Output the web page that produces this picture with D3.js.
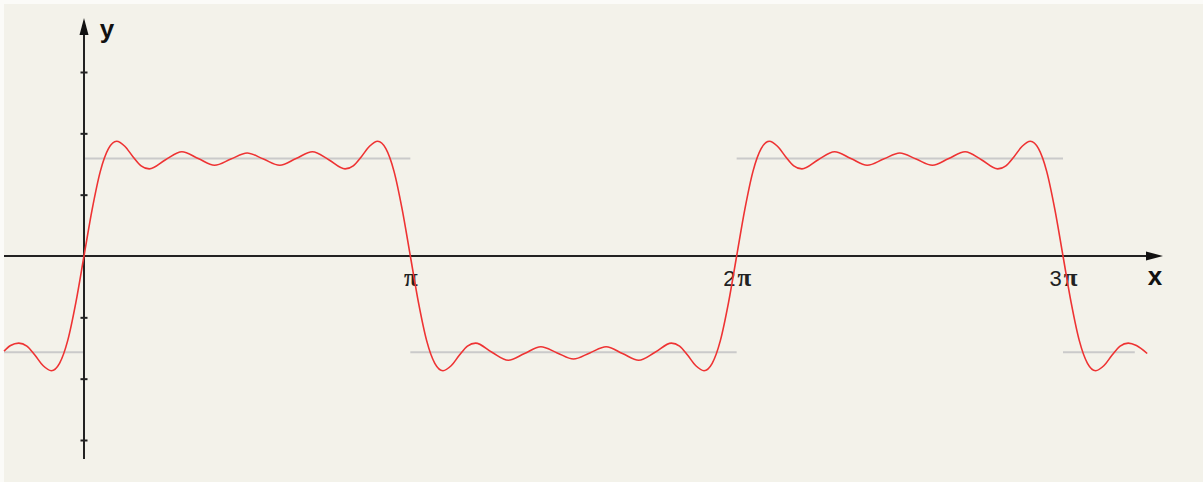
<!DOCTYPE html>
<html>

<head>
    <meta charset="utf-8">
    <title>Square wave partial sum</title>
    <style>
        body { margin: 0; background: #fbfbf8; }
        svg { display: block; }
    </style>
</head>

<body>
    <div id="svgContainer"></div>
    <script src="https://d3js.org/d3.v7.min.js"></script>
    <script>
        // x in multiples of pi, y in axis units
        var curveX = [
            -0.245, -0.225, -0.2, -0.175, -0.15, -0.125, -0.1, -0.075, -0.05, -0.025,
            0, 0.025, 0.05, 0.075, 0.1, 0.125, 0.15, 0.175, 0.2, 0.25, 0.3, 0.35, 0.4, 0.45,
            0.5, 0.55, 0.6, 0.65, 0.7, 0.75, 0.8, 0.825, 0.85, 0.875, 0.9, 0.925, 0.95, 0.975,
            1, 1.025, 1.05, 1.075, 1.1, 1.125, 1.15, 1.175, 1.2, 1.25, 1.3, 1.35, 1.4, 1.45,
            1.5, 1.55, 1.6, 1.65, 1.7, 1.75, 1.8, 1.825, 1.85, 1.875, 1.9, 1.925, 1.95, 1.975,
            2, 2.025, 2.05, 2.075, 2.1, 2.125, 2.15, 2.175, 2.2, 2.25, 2.3, 2.35, 2.4, 2.45,
            2.5, 2.55, 2.6, 2.65, 2.7, 2.75, 2.8, 2.825, 2.85, 2.875, 2.9, 2.925, 2.95, 2.975,
            3, 3.025, 3.05, 3.075, 3.1, 3.125, 3.15, 3.175, 3.2, 3.225, 3.258
        ];
        var curveY = [
            -1.55, -1.46, -1.42, -1.47, -1.62, -1.79, -1.87, -1.75, -1.38, -0.76,
            0, 0.76, 1.38, 1.75, 1.87, 1.79, 1.62, 1.47, 1.42, 1.57, 1.70, 1.59, 1.48, 1.58,
            1.68, 1.58, 1.48, 1.59, 1.70, 1.57, 1.42, 1.47, 1.62, 1.79, 1.87, 1.75, 1.38, 0.76,
            0, -0.76, -1.38, -1.75, -1.87, -1.79, -1.62, -1.47, -1.42, -1.57, -1.70, -1.59, -1.48, -1.58,
            -1.68, -1.58, -1.48, -1.59, -1.70, -1.57, -1.42, -1.47, -1.62, -1.79, -1.87, -1.75, -1.38, -0.76,
            0, 0.76, 1.38, 1.75, 1.87, 1.79, 1.62, 1.47, 1.42, 1.57, 1.70, 1.59, 1.48, 1.58,
            1.68, 1.58, 1.48, 1.59, 1.70, 1.57, 1.42, 1.47, 1.62, 1.79, 1.87, 1.75, 1.38, 0.76,
            0, -0.76, -1.38, -1.75, -1.87, -1.79, -1.62, -1.47, -1.42, -1.46, -1.59
        ];

        // the grey square wave levels
        var levelStart = [-0.245, 0, 1, 2, 3];
        var levelEnd = [0, 1, 2, 3, 3.22];
        var levelY = [-1.57, 1.59, -1.57, 1.59, -1.57];

        var xTickValues = [1, 2, 3];
        var xTickDigits = ["", "2", "3"];
        var yTickValues = [-3, -2, -1, 1, 2, 3];

        var W = 1203, H = 482;
        var svg = d3.select("#svgContainer")
            .append("svg")
            .attr("width", W)
            .attr("height", H);

        svg.append("rect")
            .attr("x", 4).attr("y", 4)
            .attr("width", W - 4).attr("height", H - 4)
            .attr("fill", "#f3f2ea");

        var x = d3.scaleLinear().domain([0, 3]).range([84, 1063]);
        var y = d3.scaleLinear().domain([-3, 3]).range([440, 72]);

        // grey levels
        svg.selectAll("line.level")
            .data(levelY)
            .enter()
            .append("line")
            .attr("class", "level")
            .attr("x1", (d, i) => x(levelStart[i]))
            .attr("x2", (d, i) => x(levelEnd[i]))
            .attr("y1", d => y(d))
            .attr("y2", d => y(d))
            .attr("stroke", "#cacaca")
            .attr("stroke-width", 2);

        // x axis line + arrow
        svg.append("line")
            .attr("x1", 4).attr("x2", 1150)
            .attr("y1", y(0)).attr("y2", y(0))
            .attr("stroke", "#222").attr("stroke-width", 2);
        svg.append("path")
            .attr("d", "M1163," + y(0) + "L1146," + (y(0) - 4.5) + "L1146," + (y(0) + 4.5) + "Z")
            .attr("fill", "#111");

        // y axis line + arrow
        svg.append("line")
            .attr("x1", x(0)).attr("x2", x(0))
            .attr("y1", 459).attr("y2", 30)
            .attr("stroke", "#222").attr("stroke-width", 2);
        svg.append("path")
            .attr("d", "M" + x(0) + ",18L" + (x(0) - 4.5) + ",35L" + (x(0) + 4.5) + ",35Z")
            .attr("fill", "#111");

        // y ticks, drawn across the axis
        var yAxis = svg.append("g")
            .attr("transform", "translate(" + x(0) + ",0)")
            .call(d3.axisLeft(y).tickValues(yTickValues).tickSize(4).tickFormat(""));
        yAxis.select(".domain").remove();
        yAxis.selectAll(".tick line")
            .attr("x1", 3.5).attr("x2", -3.5)
            .attr("stroke", "#222").attr("stroke-width", 2);

        // x tick labels: digit + pi
        var xAxis = svg.append("g")
            .attr("transform", "translate(0," + y(0) + ")")
            .call(d3.axisBottom(x).tickValues(xTickValues).tickSize(0).tickFormat(""));
        xAxis.select(".domain").remove();
        var tickText = xAxis.selectAll(".tick text")
            .attr("y", 30)
            .attr("dy", null)
            .attr("text-anchor", "middle")
            .attr("fill", "#222");
        tickText.append("tspan")
            .style("font-family", "Liberation Sans, Arial, sans-serif")
            .style("font-size", "22px")
            .text((d, i) => xTickDigits[i]);
        tickText.append("tspan")
            .attr("dx", (d, i) => xTickDigits[i] ? 2 : 0)
            .style("font-family", "Liberation Serif, serif")
            .style("font-weight", "bold")
            .style("font-size", "25px")
            .text("π");

        // the curve
        var line = d3.line()
            .x((d, i) => x(curveX[i]))
            .y(d => y(d))
            .curve(d3.curveMonotoneX);
        svg.append("path")
            .datum(curveY)
            .attr("d", line)
            .attr("fill", "none")
            .attr("stroke", "#ee3333")
            .attr("stroke-width", 1.6);

        // axis names
        svg.append("text")
            .attr("x", 1155).attr("y", 285)
            .attr("text-anchor", "middle")
            .style("font-family", "Liberation Sans, Arial, sans-serif")
            .style("font-weight", "bold")
            .style("font-size", "26px")
            .attr("fill", "#111")
            .text("x");
        svg.append("text")
            .attr("x", 107).attr("y", 38)
            .attr("text-anchor", "middle")
            .style("font-family", "Liberation Sans, Arial, sans-serif")
            .style("font-weight", "bold")
            .style("font-size", "26px")
            .attr("fill", "#111")
            .text("y");
    </script>

</body>

</html>
